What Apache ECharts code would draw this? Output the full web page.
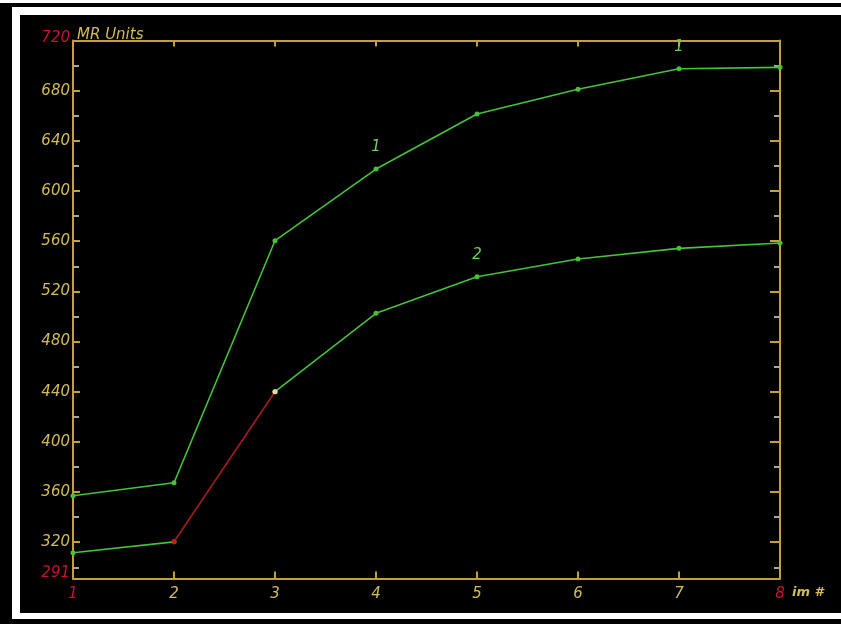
<!DOCTYPE html>
<html>
<head>
<meta charset="utf-8">
<script src="https://cdn.jsdelivr.net/npm/echarts@6/dist/echarts.min.js"></script>
<style>
  html, body { margin: 0; padding: 0; background: #ffffff; }
  #frameOuter { position: absolute; left: 0; top: 3px; width: 841px; height: 621px; background: #000; }
  #frameGap { position: absolute; left: 12px; top: 7px; width: 829px; height: 612px; background: #fff; }
  #frameInner { position: absolute; left: 20px; top: 15px; width: 821px; height: 598px; background: #000; }
  #chart { position: absolute; left: 0; top: 0; width: 841px; height: 624px; }
</style>
</head>
<body>
<div id="frameOuter"></div>
<div id="frameGap"></div>
<div id="frameInner"></div>
<div id="chart"></div>
<script>
// ---- data ----
const xValues = [1, 2, 3, 4, 5, 6, 7, 8];
const series1 = [357.0, 367.4, 560.4, 617.5, 661.4, 681.1, 697.5, 698.6];
const series2 = [311.6, 320.3, 440.0, 502.5, 531.6, 545.8, 554.3, 558.5];
const yLabelValues = [291, 320, 360, 400, 440, 480, 520, 560, 600, 640, 680, 720];
const yMajorTicks = [320, 360, 400, 440, 480, 520, 560, 600, 640, 680];
const yMinorTicks = [300, 340, 380, 420, 460, 500, 540, 580, 620, 660, 700];
const xTickValues = [2, 3, 4, 5, 6, 7];
const redLabelsX = [1, 8];
const redLabelsY = [291, 720];
const tags1 = { 4: '1', 7: '1' };   // x -> tag text on curve 1
const tags2 = { 5: '2' };           // x -> tag text on curve 2
const redSegment = [2, 3];          // x-range of curve 2 drawn in red
const yName = 'MR Units';
const xName = 'im #';

// ---- style ----
const GOLD = '#c2a236';
const YEL = '#d2bc55';
const RED = '#c8142c';
const GREEN = '#46c23a';
const DARKRED = '#9a1a1e';
const GREY = '#a8a8a8';
const FONT = 'DejaVu Sans';

function pts(arr, from, to) {
  const out = [];
  for (let i = 0; i < xValues.length; i++) {
    const x = xValues[i];
    if (x >= from && x <= to) out.push([x, arr[i]]);
  }
  return out;
}
function tagged(data, tags) {
  return data.map(p => {
    const t = tags[p[0]];
    if (!t) return { value: p };
    return { value: p, label: { show: true, formatter: t } };
  });
}
const txt = { fontFamily: FONT, fontStyle: 'italic', fontSize: 15 };
const richLabels = {
  y: Object.assign({ color: YEL }, txt),
  r: Object.assign({ color: RED }, txt),
  rlow: Object.assign({ color: RED, padding: [0, 0, 10, 0] }, txt),
  rtop: Object.assign({ color: RED, padding: [0, 0, 4, 0] }, txt)
};

const lbl = {
  position: 'top', distance: 12, color: '#6ccf5c',
  fontFamily: FONT, fontStyle: 'italic', fontSize: 15
};

const s2a = pts(series2, xValues[0], redSegment[0]);
const s2b = pts(series2, redSegment[0], redSegment[1]);
const s2c = pts(series2, redSegment[1], xValues[xValues.length - 1]);

const chart = echarts.init(document.getElementById('chart'), null, { renderer: 'canvas' });
chart.setOption({
  backgroundColor: 'transparent',
  animation: false,
  grid: { left: 73, right: 61, top: 40.5, bottom: 45.4, containLabel: false },
  xAxis: [
    {
      type: 'value', position: 'bottom', min: 1, max: 8, interval: 1,
      axisLine: { show: true, onZero: false, lineStyle: { color: GOLD, width: 2 } },
      axisTick: { show: true, inside: true, length: 7, customValues: xTickValues, lineStyle: { color: GOLD, width: 2 } },
      axisLabel: {
        show: true, customValues: xValues, margin: 8,
        formatter: v => redLabelsX.includes(v) ? '{r|' + v + '}' : '{y|' + v + '}',
        rich: richLabels
      },
      splitLine: { show: false },
      name: xName, nameLocation: 'end', nameGap: 12,
      nameTextStyle: { color: YEL, fontFamily: FONT, fontStyle: 'italic', fontWeight: 'bold', fontSize: 13, verticalAlign: 'top', padding: [8, 0, 0, 0] }
    },
    {
      type: 'value', position: 'top', min: 1, max: 8, interval: 1,
      axisLine: { show: true, onZero: false, lineStyle: { color: GOLD, width: 2 } },
      axisTick: { show: true, inside: true, length: 6, customValues: xTickValues, lineStyle: { color: GOLD, width: 2 } },
      axisLabel: { show: false },
      splitLine: { show: false }
    }
  ],
  yAxis: [
    {
      type: 'value', position: 'left', min: 291, max: 720,
      axisLine: { show: true, onZero: false, lineStyle: { color: GOLD, width: 2 } },
      axisTick: { show: true, inside: true, length: 7, customValues: yMajorTicks, lineStyle: { color: GOLD, width: 2 } },
      axisLabel: {
        show: true, customValues: yLabelValues, margin: 3,
        formatter: v => v === redLabelsY[0] ? '{rlow|' + v + '}' : (v === redLabelsY[1] ? '{rtop|' + v + '}' : '{y|' + v + '}'),
        rich: richLabels
      },
      splitLine: { show: false },
      name: yName, nameLocation: 'end', nameGap: 5,
      nameTextStyle: { color: YEL, fontFamily: FONT, fontStyle: 'italic', fontSize: 15, align: 'left', verticalAlign: 'middle', padding: [0, 0, 0, 4] }
    },
    {
      type: 'value', position: 'left', min: 291, max: 720,
      axisLine: { show: false },
      axisTick: { show: true, inside: true, length: 6, customValues: yMinorTicks, lineStyle: { color: GREY, width: 2 } },
      axisLabel: { show: false },
      splitLine: { show: false }
    },
    {
      type: 'value', position: 'right', min: 291, max: 720,
      axisLine: { show: true, onZero: false, lineStyle: { color: GOLD, width: 2 } },
      axisTick: { show: true, inside: true, length: 10, customValues: yMajorTicks, lineStyle: { color: GOLD, width: 2 } },
      axisLabel: { show: false },
      splitLine: { show: false }
    },
    {
      type: 'value', position: 'right', min: 291, max: 720,
      axisLine: { show: false },
      axisTick: { show: true, inside: true, length: 6, customValues: yMinorTicks, lineStyle: { color: GREY, width: 2 } },
      axisLabel: { show: false },
      splitLine: { show: false }
    }
  ],
  series: [
    {
      name: '1', type: 'line', xAxisIndex: 0, yAxisIndex: 0,
      data: tagged(pts(series1, 1, 8), tags1),
      symbol: 'circle', symbolSize: 5, showAllSymbol: true,
      lineStyle: { color: GREEN, width: 1.6 },
      itemStyle: { color: GREEN },
      label: lbl, z: 3
    },
    {
      name: '2a', type: 'line', xAxisIndex: 0, yAxisIndex: 0,
      data: tagged(s2a, tags2),
      symbol: 'circle', symbolSize: 5,
      lineStyle: { color: GREEN, width: 1.6 },
      itemStyle: { color: GREEN },
      label: lbl, z: 3
    },
    {
      name: '2b', type: 'line', xAxisIndex: 0, yAxisIndex: 0,
      data: s2b.map((p, i) => ({ value: p, itemStyle: { color: i === 0 ? '#d01818' : '#e6d8a8' } })),
      symbol: 'circle', symbolSize: 5,
      lineStyle: { color: DARKRED, width: 1.8 },
      z: 4
    },
    {
      name: '2c', type: 'line', xAxisIndex: 0, yAxisIndex: 0,
      data: tagged(s2c, tags2).map((d, i) => i === 0 ? Object.assign(d, { itemStyle: { color: '#e6d8a8' } }) : d),
      symbol: 'circle', symbolSize: 5,
      lineStyle: { color: GREEN, width: 1.6 },
      itemStyle: { color: GREEN },
      label: lbl, z: 3
    }
  ]
});
</script>
</body>
</html>
